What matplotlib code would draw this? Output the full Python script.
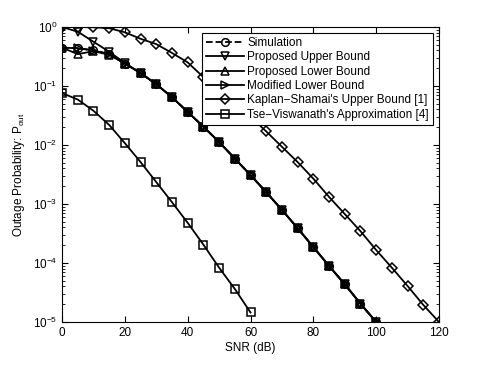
import numpy as np
import matplotlib
matplotlib.use('Agg')
import matplotlib.pyplot as plt
from matplotlib.ticker import LogLocator, NullFormatter

plt.rcParams['font.family'] = ['Liberation Sans', 'DejaVu Sans']
plt.rcParams['mathtext.fontset'] = 'custom'
plt.rcParams['mathtext.rm'] = 'Liberation Sans'
plt.rcParams['mathtext.it'] = 'Liberation Sans'

# SNR grid (dB)
snr_main = np.arange(0, 101, 5)
snr_ks = np.arange(0, 121, 5)
snr_tv = np.arange(0, 61, 5)

# log10 of outage probability
common_tail = [-0.78, -0.97, -1.19, -1.44, -1.69, -1.95, -2.23, -2.51, -2.80,
               -3.10, -3.41, -3.73, -4.05, -4.36, -4.69, -5.00]
sim_log = [-0.35, -0.36, -0.39, -0.46, -0.62] + common_tail
upper_log = [0.0, -0.08, -0.25, -0.42, -0.61] + common_tail
lower_log = [-0.35, -0.46, -0.41, -0.47, -0.62] + common_tail
modified_log = [-0.35, -0.36, -0.40, -0.46, -0.62] + common_tail
ks_log = [0.0, 0.0, -0.005, -0.02, -0.09, -0.2, -0.29, -0.44, -0.6, -0.85,
          -1.06, -1.29, -1.52, -1.77, -2.03, -2.29, -2.57, -2.88, -3.17, -3.46,
          -3.78, -4.08, -4.39, -4.71, -5.0]
tv_log = [-1.12, -1.23, -1.42, -1.66, -1.97, -2.29, -2.63, -2.97, -3.32, -3.69,
          -4.08, -4.44, -4.84]

labels = ['Simulation', 'Proposed Upper Bound', 'Proposed Lower Bound',
          'Modified Lower Bound', "Kaplan\u2212Shamai's Upper Bound [1]",
          "Tse\u2212Viswanath's Approximation [4]"]

fig = plt.figure(figsize=(4.85, 3.65), dpi=100)
ax = fig.add_axes([0.128, 0.118, 0.777, 0.808])

mk = dict(color='k', markerfacecolor='none', markeredgecolor='k',
          markersize=5.5, markeredgewidth=1.1, linewidth=1.3)
ax.plot(snr_main, 10.0 ** np.array(sim_log), 'o--', label=labels[0], **mk)
ax.plot(snr_main, 10.0 ** np.array(upper_log), 'v-', label=labels[1], **mk)
ax.plot(snr_main, 10.0 ** np.array(lower_log), '^-', label=labels[2], **mk)
ax.plot(snr_main, 10.0 ** np.array(modified_log), '>-', label=labels[3], **mk)
ax.plot(snr_ks, 10.0 ** np.array(ks_log), 'D-', label=labels[4],
        **{**mk, 'markersize': 4.6})
ax.plot(snr_tv, 10.0 ** np.array(tv_log), 's-', label=labels[5], **mk)

ax.set_yscale('log')
ax.set_xlim(0, 120)
ax.set_ylim(1e-5, 1)
ax.set_xticks(np.arange(0, 121, 20))
ax.yaxis.set_major_locator(LogLocator(base=10, numticks=10))
ax.yaxis.set_minor_locator(LogLocator(base=10, subs=np.arange(2, 10), numticks=10))
ax.yaxis.set_minor_formatter(NullFormatter())
ax.tick_params(which='both', direction='in', top=True, right=True, labelsize=8.5)
ax.tick_params(which='major', length=4)
ax.tick_params(which='minor', length=2)

ax.set_xlabel('SNR (dB)', fontsize=8.5, labelpad=2)
ax.set_ylabel(r'Outage Probability: P$_{\mathrm{out}}$', fontsize=8.5, labelpad=4)

leg = ax.legend(loc='upper right', fontsize=8.5, frameon=True, fancybox=False,
                edgecolor='k', framealpha=1, borderpad=0.35, labelspacing=0.2,
                handlelength=3.2, handletextpad=0.3, borderaxespad=0.5)
leg.get_frame().set_linewidth(0.8)

fig.savefig('out.png', dpi=100)
